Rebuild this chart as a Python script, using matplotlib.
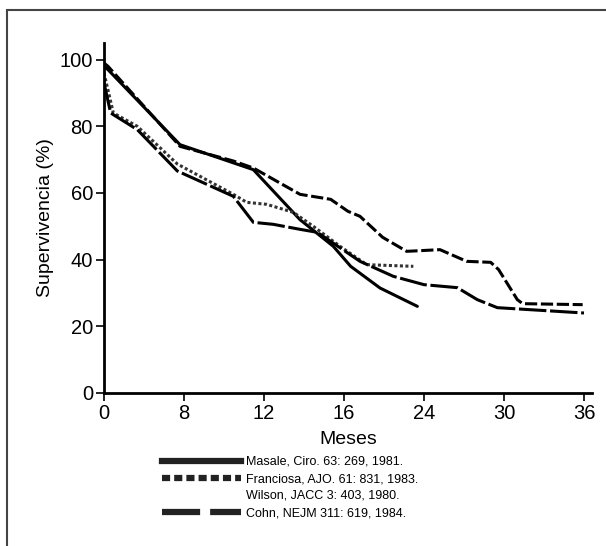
import matplotlib
matplotlib.use("Agg")
import matplotlib.pyplot as plt
from matplotlib.lines import Line2D
from matplotlib.patches import Rectangle

plt.rcParams['font.family'] = ['Liberation Sans', 'DejaVu Sans']

# x in axis position units (tick spacing 6), y = supervivencia (%)
masale_x = [0, 0.3, 5.7, 11.2, 14.7, 17.2, 18.5, 20.7, 23.5]
masale_y = [98, 97, 74.5, 67, 52, 44, 38, 31.5, 26]

franciosa_x = [0, 0.3, 5.7, 9.7, 11.2, 14.7, 17.0, 18.3, 19.2, 20.9, 22.7, 25.2,
               27.2, 29.0, 29.6, 31.0, 31.4, 35.9]
franciosa_y = [99, 98, 74, 69.6, 67.5, 59.6, 58.1, 54.5, 53, 46.7, 42.5, 43,
               39.5, 39.2, 37, 28, 26.8, 26.5]

wilson_x = [0, 0.7, 2.5, 5.5, 9.7, 10.7, 12.2, 14.2, 15.7, 17.7, 19.7, 23.2]
wilson_y = [96, 84, 80, 68.7, 59.6, 57.2, 56.6, 54.2, 50, 44, 38.5, 38]

cohn_x = [0, 0.5, 2.5, 5.5, 9.7, 11.2, 12.7, 14.7, 16, 19.2, 21.7, 24, 26.5, 28,
          29.5, 36]
cohn_y = [93, 84, 79, 66.6, 59, 51.2, 50.6, 49.1, 48.2, 39.5, 35, 32.5, 31.6, 28,
          25.6, 24]

tick_pos = [0, 6, 12, 18, 24, 30, 36]
tick_labels = ["0", "8", "12", "16", "24", "30", "36"]
y_ticks = [0, 20, 40, 60, 80, 100]

labels = ["Masale, Ciro. 63: 269, 1981.",
          "Franciosa, AJO. 61: 831, 1983.",
          "Wilson, JACC 3: 403, 1980.",
          "Cohn, NEJM 311: 619, 1984."]

fig = plt.figure(figsize=(6.06, 5.46), dpi=100)
ax = fig.add_axes([104/606, 1-393/546, 488/606, 350/546])

ax.plot(masale_x, masale_y, color='black', lw=2.2, solid_capstyle='round')
ax.plot(franciosa_x, franciosa_y, color='black', lw=2.2, linestyle=(0, (4, 1.2)))
ax.plot(wilson_x, wilson_y, color='#333333', lw=2.2, linestyle=(0, (1, 0.8)))
ax.plot(cohn_x, cohn_y, color='black', lw=2.2, linestyle=(0, (9, 1.2)))

ax.set_xlim(0, 36.6)
ax.set_ylim(0, 105)
ax.set_xticks(tick_pos)
ax.set_xticklabels(tick_labels)
ax.set_yticks(y_ticks)
for s in ['top', 'right']:
    ax.spines[s].set_visible(False)
for s in ['left', 'bottom']:
    ax.spines[s].set_linewidth(2)
ax.tick_params(direction='out', length=6, width=1.2, labelsize=14.5, pad=2)
ax.set_ylabel("Supervivencia (%)", fontsize=14, labelpad=4)
ax.set_xlabel("Meses", fontsize=14, labelpad=6)

# legend handles (the Wilson entry has no visible line in the original)
handles = [
    Line2D([], [], color='#222222', lw=4.5),
    Line2D([], [], color='#222222', lw=4.5, linestyle=(0, (1.3, 0.65))),
    Line2D([], [], color='white', lw=0),
    Line2D([], [], color='#222222', lw=4.5, linestyle=(0, (6.1, 1.6))),
]
fig.legend(handles, labels, loc='upper left', bbox_to_anchor=(162/606, 1-456/546),
           frameon=False, fontsize=9, handlelength=6.3, handletextpad=0.4,
           labelspacing=0.4, borderpad=0, borderaxespad=0)

fig.add_artist(Rectangle((7/606, -0.1), 1.2, 1.1 - 10/546, transform=fig.transFigure,
                         fill=False, edgecolor='#444444', lw=1.5, clip_on=False))

fig.savefig("out.png", dpi=100)
